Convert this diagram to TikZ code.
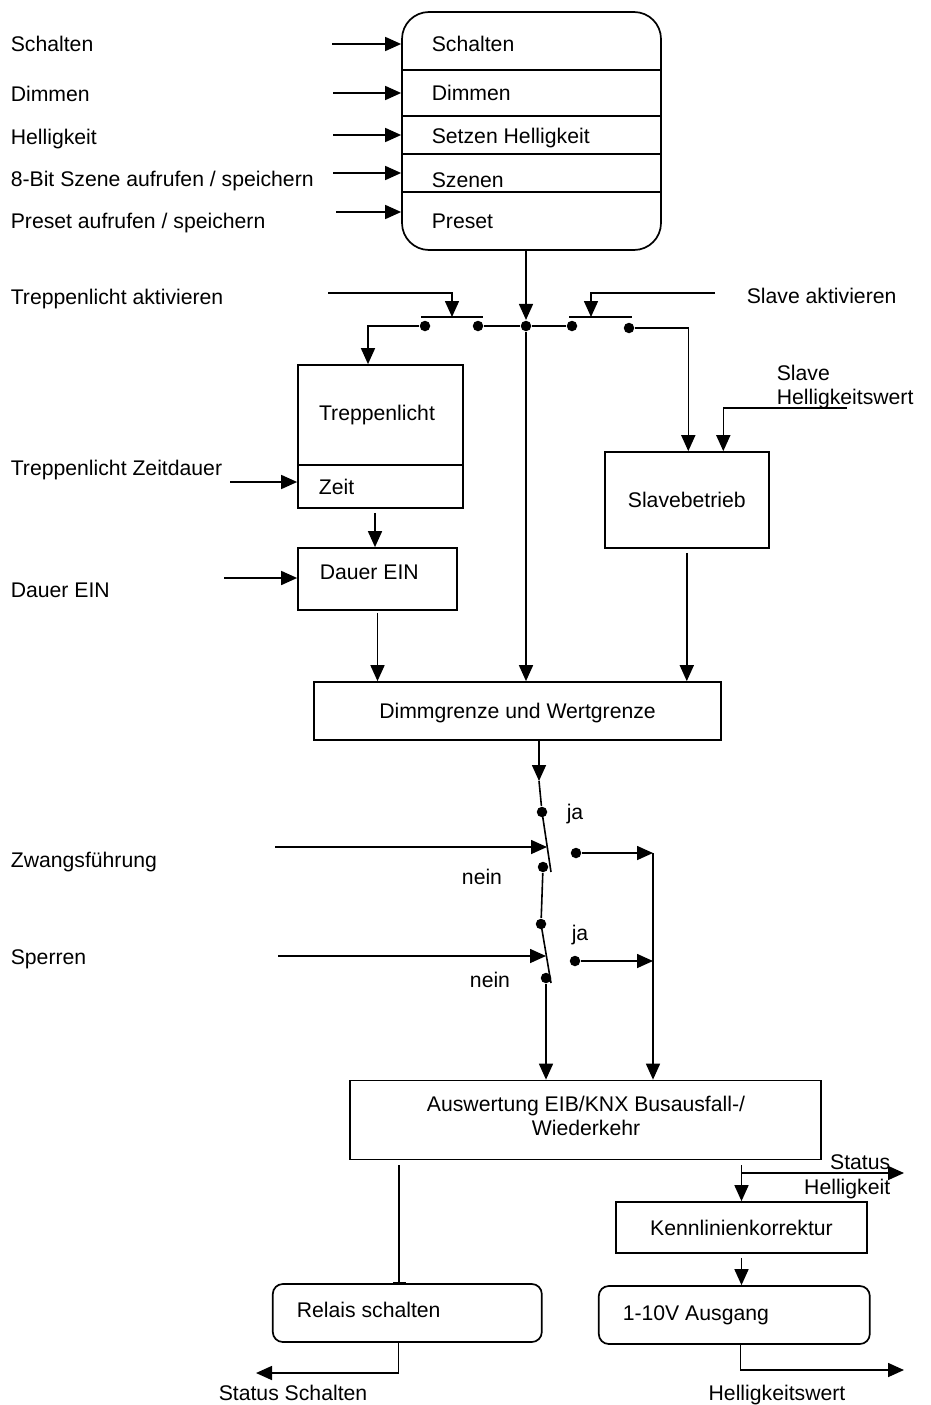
\documentclass[tikz,border=0pt]{standalone}
\usepackage{fontspec}
\setmainfont{Liberation Sans}
\usepackage{tikz}
\usetikzlibrary{positioning}
\usetikzlibrary{arrows.meta}
\tikzset{block node/.style={draw,line width=1.7pt,inner sep=0pt,text height=15pt,text depth=0pt},
	round node/.style={block node,rounded corners=10pt},
	text node/.style={inner sep=0pt,text height=15pt,text depth=0pt},
	multi node/.style={inner sep=0pt},
	kontakt/.style={circle,fill,inner sep=0pt,minimum size=10.5pt},}

\begin{document}
\begin{tikzpicture}[x=1pt, y=-1pt, >={Triangle[length=16pt,width=14pt]}, line width=1.6pt, font=\fontsize{21.2}{24.5}\selectfont]
	\useasboundingbox (0,0) rectangle (931,1405);

	% Objekte
	\node[round node, rounded corners=27pt, minimum width=259pt, minimum height=238pt] (objekte) at (531.5,131) {};
	\draw (objekte.west |- 0,70) -- (objekte.east |- 0,70);
	\draw (objekte.west |- 0,116) -- (objekte.east |- 0,116);
	\draw (objekte.west |- 0,154) -- (objekte.east |- 0,154);
	\draw (objekte.west |- 0,192) -- (objekte.east |- 0,192);
	\node[text node, anchor=west] at (431,44) {Schalten};
	\node[text node, anchor=west] at (431,93) {Dimmen};
	\node[text node, anchor=west] at (431,136) {Setzen Helligkeit};
	\node[text node, anchor=west] at (431,180) {Szenen};
	\node[text node, anchor=west] at (431,221) {Preset};

	\node[text node, anchor=west] at (10,44) {Schalten};
	\node[text node, anchor=west] at (10,94) {Dimmen};
	\node[text node, anchor=west] at (10,137) {Helligkeit};
	\node[text node, anchor=west] at (10,179) {8-Bit Szene aufrufen / speichern};
	\node[text node, anchor=west] at (10,221) {Preset aufrufen / speichern};
	\coordinate (e1) at (332,44);
	\coordinate (e2) at (333,93);
	\coordinate (e3) at (333,135);
	\coordinate (e4) at (333,173);
	\coordinate (e5) at (336,212);
	\draw[->] (e1) -- (e1 -| objekte.west);
	\draw[->] (e2) -- (e2 -| objekte.west);
	\draw[->] (e3) -- (e3 -| objekte.west);
	\draw[->] (e4) -- (e4 -| objekte.west);
	\draw[->] (e5) -- (e5 -| objekte.west);

	% Schalter Treppenlicht / Slave
	\node[kontakt] (mitte) at (526,326) {};
	\node[kontakt] (tl) at (425,326) {};
	\node[kontakt] (tr) at (478,326) {};
	\node[kontakt] (sl) at (572,326) {};
	\node[kontakt] (sr) at (629,328) {};
	\draw (421,317) -- (483,317);
	\draw (569,317) -- (632,317);
	\coordinate (tbar) at (452,317);
	\coordinate (sbar) at (591,317);
	\coordinate (ta) at (328,293);
	\coordinate (sa) at (715,293);
	\node[text node, anchor=west] at (10,297) {Treppenlicht aktivieren};
	\node[text node, anchor=west] at (746,296) {Slave aktivieren};
	\draw[->] (objekte.south -| mitte) -- (mitte);
	\draw[->] (ta) -| (tbar);
	\draw[->] (sa) -| (sbar);
	\draw (tr) -- (mitte) -- (sl);

	% Treppenlicht
	\node[block node, minimum width=165pt, minimum height=143pt] (treppe) at (380.5,436.5) {};
	\draw (treppe.west |- 0,465) -- (treppe.east |- 0,465);
	\node[text node] at (377,413) {Treppenlicht};
	\node[text node, anchor=west] at (318,487) {Zeit};
	\coordinate (tn) at ([xshift=-12.5pt]treppe.north);
	\draw[->] (tl) -| (tn);
	\node[text node, anchor=west] at (10,468) {Treppenlicht Zeitdauer};
	\coordinate (zd) at (230,482);
	\draw[->] (zd) -- (zd -| treppe.west);

	\node[block node, minimum width=159pt, minimum height=62pt] (dauer) at (377.5,579) {};
	\node[text node, anchor=west] at (319,572) {Dauer EIN};
	\node[text node, anchor=west] at (10,590) {Dauer EIN};
	\coordinate (de) at (224,578);
	\draw[->] (de) -- (de -| dauer.west);
	\coordinate (ts) at ([xshift=-5.5pt]treppe.south);
	\draw[->, shorten <=4pt] (ts) -- (ts |- dauer.north);

	% Slave
	\node[block node, minimum width=164pt, minimum height=96pt] (slave) at (686.8,500) {Slavebetrieb};
	\coordinate (sn) at ([xshift=1.5pt]slave.north);
	\coordinate (hn) at ([xshift=36.5pt]slave.north);
	\draw[->] (sr) -| (sn);
	\node[multi node, anchor=north west, align=left] at (776,364) {Slave\\Helligkeitswert};
	\coordinate (sh) at (847,408);
	\draw[->] (sh) -| (hn);

	% Grenzen
	\node[block node, minimum width=407pt, minimum height=58pt] (dimm) at (517.5,711) {Dimmgrenze und Wertgrenze};
	\draw[->, shorten <=2pt] (dauer.south) -- (dauer.south |- dimm.north);
	\draw[->] (mitte) -- (mitte |- dimm.north);
	\draw[->, shorten <=4pt] (slave.south) -- (slave.south |- dimm.north);

	% Zwangsfuehrung / Sperren
	\coordinate (p1) at (539,781);
	\draw[->] (dimm.south -| p1) -- (p1);
	\node[kontakt] (ja1) at (542,812) {};
	\node[kontakt] (nein1) at (543,867) {};
	\node[kontakt] (jr1) at (576,853) {};
	\draw (p1) -- (ja1);
	\draw (ja1.center) -- (551,872);
	\node[text node] at (575,812) {ja};
	\node[text node] at (482,877) {nein};
	\node[text node, anchor=west] at (10,860) {Zwangsführung};
	\coordinate (zw) at (275,847);
	\draw[->] (zw) -- (547,847);
	\coordinate (sammel) at (653,853);
	\draw[->] (jr1) -- (sammel);

	\node[kontakt] (ja2) at (541,924) {};
	\node[kontakt] (nein2) at (546,978) {};
	\node[kontakt] (jr2) at (575,961) {};
	\draw (nein1) -- (ja2);
	\draw (ja2.center) -- (551,983);
	\node[text node] at (580,933) {ja};
	\node[text node] at (490,980) {nein};
	\node[text node, anchor=west] at (10,957) {Sperren};
	\coordinate (sp) at (278,956);
	\draw[->] (sp) -- (546,956);
	\draw[->] (jr2) -- (jr2 -| sammel);

	% Auswertung
	\node[block node, minimum width=471pt, minimum height=79pt] (auswert) at (585.5,1120) {};
	\node[multi node, align=center] at (586,1116) {Auswertung EIB/KNX Busausfall-/\\Wiederkehr};
	\draw[->] (sammel) -- (sammel |- auswert.north);
	\draw[->] (nein2) -- (nein2 |- auswert.north);

	% Ausgaenge
	\node[round node, minimum width=269pt, minimum height=58pt] (relais) at (407.3,1313) {};
	\node[text node, anchor=west] at (296,1310) {Relais schalten};
	\coordinate (ra) at (399,0);
	\draw[-{Bar[width=13pt]}, shorten <=5pt] (auswert.south -| ra) -- (ra |- relais.north);
	\coordinate (rs) at ([xshift=-9pt]relais.south);
	\coordinate (stsch) at (256,1373);
	\draw[->] (rs) |- (stsch);
	\node[text node] at (293,1393) {Status Schalten};

	\node[block node, minimum width=251pt, minimum height=51pt] (kenn) at (741.5,1227.5) {Kennlinienkorrektur};
	\draw[->, shorten <=5pt] (auswert.south -| kenn) -- (kenn.north);
	\coordinate (abzweig) at (741.5,1173);
	\coordinate (sth) at (904,1173);
	\draw[->] (abzweig) -- (sth);
	\node[multi node, anchor=north east, align=right] at (891,1154) {Status\\Helligkeit};

	\node[round node, minimum width=271pt, minimum height=58pt] (ausgang) at (734.3,1315) {};
	\node[text node, anchor=west] at (622,1313) {1-10V Ausgang};
	\draw[->, shorten <=4pt] (kenn.south) -- (kenn.south |- ausgang.north);
	\coordinate (as) at ([xshift=6pt]ausgang.south);
	\coordinate (hw) at (904,1370);
	\draw[->] (as) |- (hw);
	\node[text node] at (777,1393) {Helligkeitswert};
\end{tikzpicture}
\end{document}
